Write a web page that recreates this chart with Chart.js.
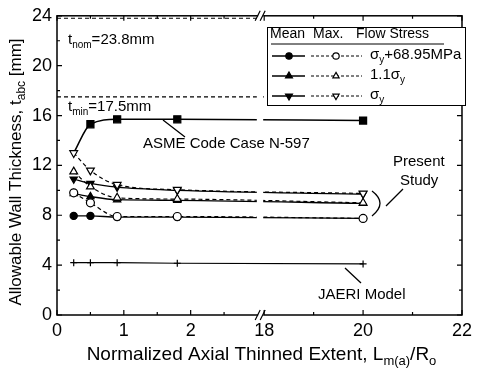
<!DOCTYPE html>
<html><head><meta charset="utf-8">
<script src="https://cdn.jsdelivr.net/npm/chart.js@4"></script>
<style>html,body{margin:0;padding:0;background:#fff}</style>
</head><body>
<canvas id="c" width="477" height="372"></canvas>
<script>
// ---- data ----
const xValues     = [0.25, 0.5, 0.9, 1.8, 20];
const asmeN597    = [13.0, 15.3, 15.7, 15.7, 15.6];
const meanSyPlus  = [7.95, 7.95, 7.85, 7.85, 7.75];
const maxSyPlus   = [9.8, 9.0, 7.9, 7.9, 7.75];
const mean11Sy    = [9.75, 9.5, 9.25, 9.2, 8.95];
const max11Sy     = [11.5, 10.3, 9.4, 9.3, 9.0];
const meanSy      = [10.9, 10.55, 10.25, 10.0, 9.7];
const maxSy       = [13.0, 11.6, 10.45, 10.05, 9.75];
const jaeriModel  = [4.2, 4.2, 4.2, 4.15, 4.1];
const tNom = 23.8, tMin = 17.5;
const xTickLabels = [0, 1, 2, 18, 20, 22];
const xMinorTicks = [0.5, 1.5, 2.5, 19, 21];
const yTickLabels = [0, 4, 8, 12, 16, 20, 24];
const yMinorTicks = [2, 6, 10, 14, 18, 22];

// broken x axis: 0..3.1 then 18..22 (compressed)
const BREAK_AT = 3.1, RIGHT_FROM = 18, RIGHT_K = 0.74;
function u(x){ return x <= BREAK_AT ? x : BREAK_AT + (x - RIGHT_FROM) * RIGHT_K; }
function pts(arr){ return xValues.map((xv,i)=>({x:u(xv), y:arr[i]})); }

const FONT = '"Liberation Sans", Arial, sans-serif';

function drawRich(ctx, parts, x, y, size, align){
  const subSize = Math.round(size*0.68);
  let w = 0;
  parts.forEach(p=>{ ctx.font = (p.sub?subSize:size)+'px '+FONT; w += ctx.measureText(p.t).width; });
  let cx = align==='center' ? x - w/2 : (align==='right' ? x - w : x);
  ctx.textBaseline = 'middle'; ctx.textAlign = 'left';
  parts.forEach(p=>{
    ctx.font = (p.sub?subSize:size)+'px '+FONT;
    ctx.fillText(p.t, cx, p.sub ? y + size*0.32 : y);
    cx += ctx.measureText(p.t).width;
  });
}

function marker(ctx, style, rot, r, x, y, filled){
  ctx.save();
  ctx.lineWidth = 1.2; ctx.strokeStyle = '#000'; ctx.fillStyle = filled ? '#000' : '#fff';
  Chart.helpers.drawPoint(ctx, {pointStyle: style, radius: r, rotation: rot, borderWidth: 1.2}, x, y);
  ctx.restore();
}

const overlay = {
  id: 'overlay',
  afterDatasetsDraw(chart){
    const {ctx, chartArea:a, scales:{x, y}} = chart;
    ctx.save();
    // gap in the curves at the axis break
    const g0 = x.getPixelForValue(2.99), g1 = x.getPixelForValue(BREAK_AT)-1;
    ctx.fillStyle = '#fff';
    ctx.fillRect(g0, y.getPixelForValue(23.95), g1-g0, y.getPixelForValue(6)-y.getPixelForValue(23.95));

    // frame
    ctx.strokeStyle = '#000'; ctx.lineWidth = 1.5;
    ctx.strokeRect(a.left, a.top, a.right-a.left, a.bottom-a.top);

    // inward ticks
    ctx.lineWidth = 1.2;
    ctx.beginPath();
    const xt = (v,len)=>{ const px = x.getPixelForValue(u(v));
      ctx.moveTo(px, a.bottom); ctx.lineTo(px, a.bottom-len);
      ctx.moveTo(px, a.top); ctx.lineTo(px, a.top+len); };
    const yt = (v,len)=>{ const py = y.getPixelForValue(v);
      ctx.moveTo(a.left, py); ctx.lineTo(a.left+len, py);
      ctx.moveTo(a.right, py); ctx.lineTo(a.right-len, py); };
    xTickLabels.forEach(v=>xt(v,5)); xMinorTicks.forEach(v=>xt(v,3));
    yTickLabels.forEach(v=>yt(v,5)); yMinorTicks.forEach(v=>yt(v,3));
    ctx.stroke();

    // break marks
    const bx = x.getPixelForValue(BREAK_AT);
    [a.bottom, a.top].forEach(by=>{
      ctx.fillStyle = '#fff'; ctx.fillRect(bx-6, by-2, 5, 4);
      ctx.beginPath();
      ctx.moveTo(bx-9, by+5); ctx.lineTo(bx-4, by-5);
      ctx.moveTo(bx-4, by+5); ctx.lineTo(bx+1, by-5);
      ctx.stroke();
    });

    // annotations
    ctx.fillStyle = '#000';
    drawRich(ctx, [{t:'t'},{t:'nom',sub:true},{t:'=23.8mm'}], 68, 40, 15, 'left');
    drawRich(ctx, [{t:'t'},{t:'min',sub:true},{t:'=17.5mm'}], 68, 107, 15, 'left');
    ctx.font = '15px '+FONT; ctx.textAlign='left'; ctx.textBaseline='middle';
    ctx.fillText('ASME Code Case N-597', 143, 144);
    ctx.fillText('Present', 393, 162);
    ctx.fillText('Study', 400, 181);
    ctx.fillText('JAERI Model', 318, 295);
    ctx.lineWidth = 1.3;
    ctx.beginPath();
    ctx.moveTo(163,120); ctx.lineTo(185,137);
    ctx.moveTo(403,189); ctx.lineTo(386,206);
    ctx.moveTo(345,268); ctx.lineTo(361,283);
    ctx.moveTo(372,191); ctx.quadraticCurveTo(388,203,372,216);
    ctx.stroke();

    // legend box
    const L = {x:267, y:27, w:198, h:78};
    ctx.fillStyle = '#fff'; ctx.fillRect(L.x, L.y, L.w, L.h);
    ctx.lineWidth = 1; ctx.strokeStyle = '#000'; ctx.strokeRect(L.x+0.5, L.y+0.5, L.w, L.h);
    ctx.fillStyle = '#000'; ctx.font = '14px '+FONT; ctx.textBaseline='middle'; ctx.textAlign='left';
    ctx.fillText('Mean', 270, 34); ctx.fillText('Max.', 313, 34); ctx.fillText('Flow Stress', 356, 34);
    ctx.beginPath(); ctx.moveTo(271,44); ctx.lineTo(444,44); ctx.stroke();
    const rows = [
      {y:56, s:'circle', rot:0, lab:[{t:'σ'},{t:'y',sub:true},{t:'+68.95MPa'}]},
      {y:76, s:'triangle', rot:0, lab:[{t:'1.1σ'},{t:'y',sub:true}]},
      {y:96, s:'triangle', rot:180, lab:[{t:'σ'},{t:'y',sub:true}]}
    ];
    rows.forEach(r=>{
      ctx.lineWidth = 1.3; ctx.setLineDash([]);
      ctx.beginPath(); ctx.moveTo(272,r.y); ctx.lineTo(305,r.y); ctx.stroke();
      ctx.lineWidth = 1; ctx.setLineDash([3,2]);
      ctx.beginPath(); ctx.moveTo(311,r.y); ctx.lineTo(362,r.y); ctx.stroke();
      ctx.setLineDash([]);
      marker(ctx, r.s, r.rot, r.s==='circle'?3.2:4, 289, r.y, true);
      marker(ctx, r.s, r.rot, r.s==='circle'?3.2:3.6, 336, r.y, false);
      ctx.fillStyle='#000';
      drawRich(ctx, r.lab, 370, r.y-1, 15, 'left');
    });

    // axis titles
    ctx.fillStyle = '#000';
    drawRich(ctx, [{t:'Normalized Axial Thinned Extent, L'},{t:'m(a)',sub:true},{t:'/R'},{t:'o',sub:true}],
      (a.left+a.right)/2+2, 355, 19, 'center');
    ctx.save();
    ctx.translate(16, 172); ctx.rotate(-Math.PI/2);
    drawRich(ctx, [{t:'Allowable Wall Thickness, t'},{t:'abc',sub:true},{t:' [mm]'}], 0, 0, 17, 'center');
    ctx.restore();
    ctx.restore();
  }
};

const solid = (label, arr, style, rot, r, filled, extra) => Object.assign({
  label, data: pts(arr), borderColor:'#000', borderWidth:1.3, backgroundColor: filled?'#000':'#fff',
  pointStyle: style, pointRotation: rot, pointRadius: r, pointBorderWidth:1.2,
  pointBackgroundColor: filled?'#000':'#fff', pointBorderColor:'#000',
  cubicInterpolationMode:'monotone', fill:false
}, extra||{});

const datasets = [
  solid('Max σy+68.95MPa', maxSyPlus, 'circle', 0, 4, false, {borderDash:[4,3], borderWidth:1.2}),
  solid('Max 1.1σy', max11Sy, 'triangle', 0, 4.5, false, {borderDash:[4,3], borderWidth:1.2}),
  solid('Max σy', maxSy, 'triangle', 180, 4.5, false, {borderDash:[4,3], borderWidth:1.2}),
  solid('Mean σy+68.95MPa', meanSyPlus, 'circle', 0, 3.6, true),
  solid('Mean 1.1σy', mean11Sy, 'triangle', 0, 4.2, true),
  solid('Mean σy', meanSy, 'triangle', 180, 4.2, true),
  solid('ASME Code Case N-597', asmeN597, 'rect', 0, [0,5,5,5,5], true, {borderWidth:1.5}),
  solid('JAERI Model', jaeriModel, 'cross', 0, 3.5, false, {borderWidth:1.2, cubicInterpolationMode:'default', tension:0}),
  {label:'t_nom', data:[{x:0,y:tNom},{x:2.99,y:tNom}], borderColor:'#000', borderWidth:1.1, borderDash:[4,3], pointRadius:0},
  {label:'t_min', data:[{x:0,y:tMin},{x:u(22),y:tMin}], borderColor:'#000', borderWidth:1.1, borderDash:[4,3], pointRadius:0}
];

new Chart(document.getElementById('c'), {
  type: 'line',
  data: { datasets },
  options: {
    responsive:false, animation:false, devicePixelRatio:1,
    layout:{ padding:{ top:15, right:9, left:0, bottom:0 } },
    plugins:{ legend:{display:false}, tooltip:{enabled:false} },
    scales:{
      x:{ type:'linear', min:0, max:u(22),
        afterBuildTicks: s => { s.ticks = xTickLabels.map(v=>({value:u(v)})); },
        ticks:{ autoSkip:false, maxRotation:0, color:'#000', padding:5, font:{family:FONT, size:18},
          callback:(val, i)=> String(xTickLabels[i]) },
        grid:{ display:false, drawTicks:false }, border:{display:false},
        afterFit: s => { s.height = 57; } },
      y:{ type:'linear', min:0, max:24,
        afterBuildTicks: s => { s.ticks = yTickLabels.map(v=>({value:v})); },
        ticks:{ color:'#000', padding:5, font:{family:FONT, size:18} },
        grid:{ display:false, drawTicks:false }, border:{display:false},
        afterFit: s => { s.width = 57; } }
    }
  },
  plugins:[overlay]
});
</script>
</body></html>
